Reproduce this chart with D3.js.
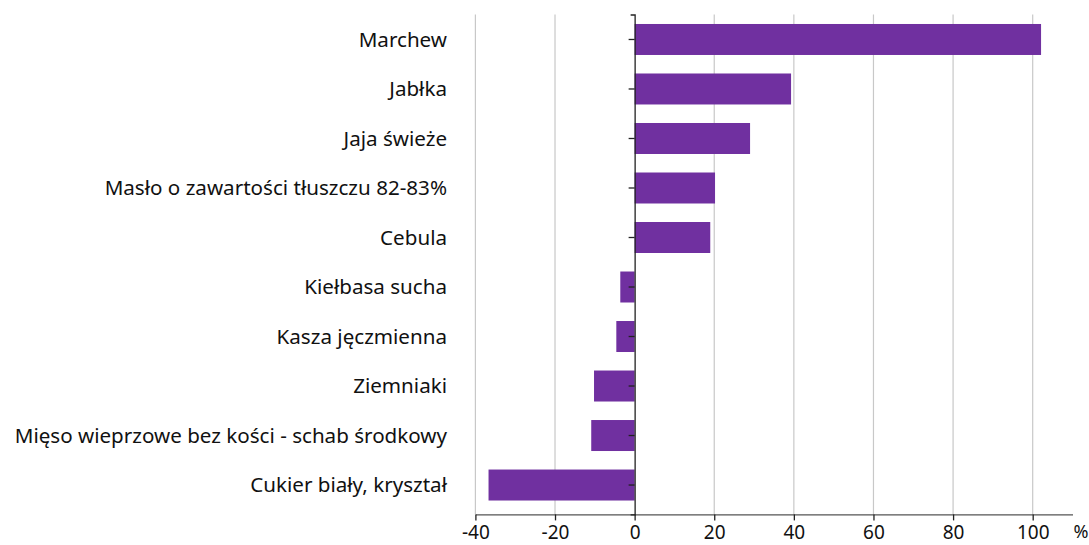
<!DOCTYPE html>
<html><head><meta charset="utf-8">
<script src="https://cdn.jsdelivr.net/npm/d3@7"></script>
<style>body{margin:0;background:#fff;} svg{display:block;}</style>
</head><body>
<svg id="c" width="1089" height="545"></svg>
<script>
const categories = ["Marchew","Jabłka","Jaja świeże","Masło o zawartości tłuszczu 82-83%","Cebula","Kiełbasa sucha","Kasza jęczmienna","Ziemniaki","Mięso wieprzowe bez kości - schab środkowy","Cukier biały, kryształ"];
const values = [102.1, 39.3, 29.0, 20.2, 19.0, -3.6, -4.6, -10.2, -10.9, -36.7];
const xTicks = [-40,-20,0,20,40,60,80,100];
const unitLabel = "%";

const svg = d3.select("#c");
const font = "'Noto Sans',sans-serif";
const x = d3.scaleLinear().domain([-40,110]).range([475.4,1072.5]);
const y = d3.scaleBand().domain(categories).range([14.5,514.4])
  .paddingInner(0.374).paddingOuter(0.236).align(0.406);

// grid
svg.append("g").selectAll("line").data(xTicks.filter(d=>d!==0)).join("line")
  .attr("x1",d=>x(d)).attr("x2",d=>x(d)).attr("y1",14.5).attr("y2",514.4)
  .attr("stroke","#c8c8c8").attr("stroke-width",1.2);

// bars
svg.append("g").selectAll("rect").data(values).join("rect")
  .attr("x",(d)=>x(Math.min(0,d))).attr("width",d=>Math.abs(x(d)-x(0)))
  .attr("y",(d,i)=>y(categories[i])).attr("height",y.bandwidth())
  .attr("fill","#7030a0");

// x axis
const xa = svg.append("g").attr("transform","translate(0,514.4)")
  .call(d3.axisBottom(x).tickValues(xTicks).tickSize(6).tickSizeOuter(0).tickFormat(d3.format("d")));
xa.select(".domain").attr("stroke","#555").attr("stroke-width",1.3);
xa.selectAll(".tick line").attr("stroke","#222").attr("stroke-width",1.3);
xa.selectAll(".tick text").attr("font-family",font).attr("font-size",19).attr("fill","#111")
  .attr("y",24.8).attr("dy",0).text(d=>String(d));

// y axis at zero
const ya = svg.append("g").attr("transform",`translate(${x(0)},0)`)
  .call(d3.axisLeft(y).tickSize(6).tickSizeOuter(4));
ya.select(".domain").attr("stroke","#222").attr("stroke-width",1.3);
ya.selectAll(".tick line").attr("stroke","#222").attr("stroke-width",1.3);
ya.selectAll(".tick text").remove();

// category labels
svg.append("g").selectAll("text").data(categories).join("text")
  .attr("x",447).attr("y",d=>y(d)+y.bandwidth()/2).attr("dy","0.36em")
  .attr("text-anchor","end").attr("font-family",font).attr("font-size",20.6).attr("fill","#111")
  .text(d=>d);

svg.append("text").attr("x",1081).attr("y",538).attr("text-anchor","middle")
  .attr("font-family",font).attr("font-size",18).attr("fill","#111").text(unitLabel);
</script>
</body></html>
